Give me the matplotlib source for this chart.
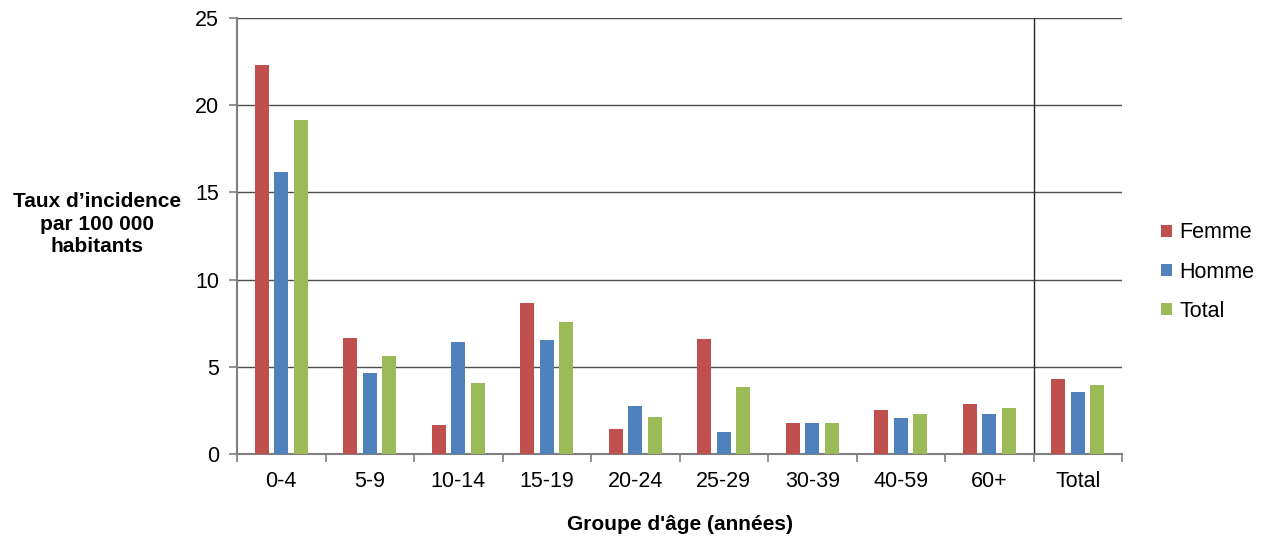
import numpy as np
import matplotlib.pyplot as plt

plt.rcParams['font.family'] = ['Liberation Sans', 'DejaVu Sans']

categories = ['0-4', '5-9', '10-14', '15-19', '20-24', '25-29', '30-39', '40-59', '60+', 'Total']
femme = [22.3, 6.65, 1.65, 8.65, 1.45, 6.6, 1.78, 2.5, 2.87, 4.3]
homme = [16.15, 4.65, 6.4, 6.55, 2.73, 1.25, 1.8, 2.07, 2.3, 3.55]
total = [19.15, 5.6, 4.07, 7.57, 2.12, 3.85, 1.78, 2.28, 2.63, 3.93]

series = [('Femme', femme, '#C0504D'),
          ('Homme', homme, '#4F81BD'),
          ('Total', total, '#9BBB59')]

fig = plt.figure(figsize=(12.66, 5.39), dpi=100)
ax = fig.add_axes([0.1872, 0.1577, 0.6991, 0.8089])

x = np.arange(len(categories))
width = 0.158
step = 0.222
for i, (name, vals, color) in enumerate(series):
    ax.bar(x + (i - 1) * step, vals, width, color=color, label=name, zorder=3)

ax.set_xlim(-0.5, len(categories) - 0.5)
ax.set_ylim(0, 25)
ax.set_yticks(range(0, 26, 5))
ax.yaxis.grid(True, color='#4d4d4d', linewidth=1.0, zorder=0)
ax.set_axisbelow(True)

# separator before the "Total" group
ax.axvline(len(categories) - 1.5, color='#262626', linewidth=1.0, zorder=2)

ax.set_xticks(x)
ax.set_xticklabels(categories, fontsize=15.5)
ax.set_xticks(np.arange(-0.5, len(categories)), minor=True)
ax.tick_params(axis='x', which='major', length=0, pad=12)
ax.tick_params(axis='x', which='minor', length=6, width=1.2, color='#7f7f7f', direction='out')
ax.tick_params(axis='y', length=6, width=1.2, color='#7f7f7f', labelsize=15.5, pad=7)

for s in ['top', 'right']:
    ax.spines[s].set_visible(False)
for s in ['left', 'bottom']:
    ax.spines[s].set_color('#7f7f7f')
    ax.spines[s].set_linewidth(1.5)

ax.set_xlabel("Groupe d'âge (années)", fontsize=15, fontweight='bold', labelpad=17)
fig.text(0.0766, 0.584, 'Taux d\u2019incidence\npar 100 000\nhabitants', fontsize=15,
         fontweight='bold', ha='center', va='center', linespacing=1.25)

ax.legend(loc='center left', bbox_to_anchor=(1.022, 0.417), frameon=False, fontsize=15.5,
          handlelength=0.5, handleheight=0.5, handletextpad=0.35, labelspacing=0.85)

fig.savefig('out.png', dpi=100)
